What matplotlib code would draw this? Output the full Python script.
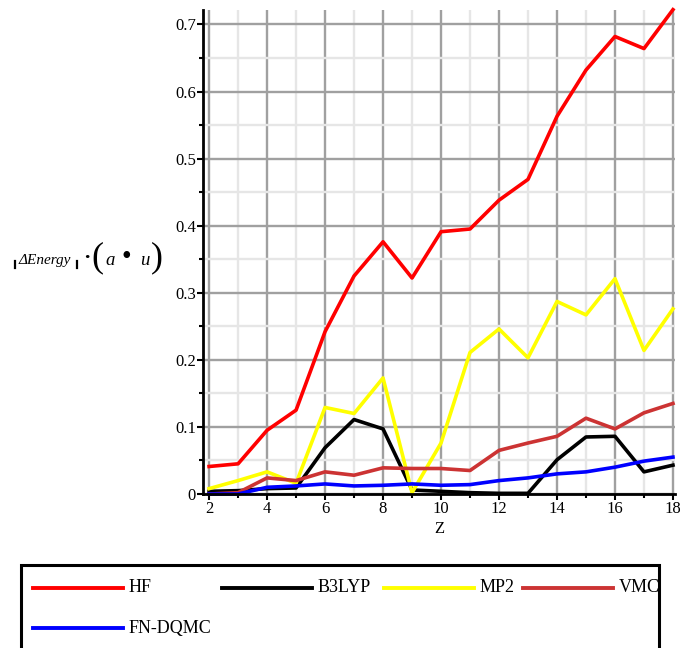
import numpy as np
import matplotlib.pyplot as plt
from matplotlib.lines import Line2D
from matplotlib.patches import Rectangle
from matplotlib.ticker import MultipleLocator
from matplotlib.transforms import Bbox, TransformedBbox

plt.rcParams['font.family'] = ['Liberation Serif', 'DejaVu Serif']

# Atomic number Z and energy error (a.u.) per method
z = [2, 3, 4, 5, 6, 7, 8, 9, 10, 11, 12, 13, 14, 15, 16, 17, 18]
hf = [0.041, 0.045, 0.095, 0.125, 0.242, 0.325, 0.376, 0.322, 0.391, 0.395,
      0.438, 0.469, 0.563, 0.632, 0.682, 0.664, 0.722]
b3lyp = [0.004, 0.005, 0.008, 0.009, 0.069, 0.111, 0.097, 0.006, 0.004, 0.002,
         0.001, 0.001, 0.051, 0.085, 0.086, 0.033, 0.043]
mp2 = [0.008, 0.020, 0.033, 0.016, 0.129, 0.120, 0.173, 0.002, 0.076, 0.211,
       0.246, 0.203, 0.287, 0.267, 0.321, 0.214, 0.276]
vmc = [0.000, 0.002, 0.024, 0.020, 0.033, 0.028, 0.039, 0.038, 0.038, 0.035,
       0.065, 0.076, 0.086, 0.113, 0.097, 0.121, 0.135]
fn_dqmc = [0.000, 0.000, 0.010, 0.012, 0.015, 0.012, 0.013, 0.015, 0.013, 0.014,
           0.020, 0.024, 0.030, 0.033, 0.040, 0.049, 0.055]

nomes = ['HF', 'B3LYP', 'MP2', 'VMC', 'FN-DQMC']
series = [hf, b3lyp, mp2, vmc, fn_dqmc]
cores = ['#ff0000', '#000000', '#ffff00', '#cc3333', '#0000ff']

fig = plt.figure(figsize=(6.8, 6.48), dpi=100)
ax = fig.add_axes([203 / 680, 1 - 494 / 648, 472 / 680, 484 / 648])

for nome, valores, cor in zip(nomes, series, cores):
    ax.plot(z, valores, color=cor, lw=2.6, label=nome, zorder=3, clip_on=False)

ax.set_xlim(1.79, 18.07)
ax.set_ylim(0, 0.7215)

# grid: dark lines on major ticks, light lines on minor ticks
ax.xaxis.set_major_locator(MultipleLocator(2))
ax.xaxis.set_minor_locator(MultipleLocator(1))
ax.yaxis.set_major_locator(MultipleLocator(0.1))
ax.yaxis.set_minor_locator(MultipleLocator(0.05))
ax.grid(True, which='minor', color='#e6e6e6', lw=1.7, zorder=0)
ax.grid(True, which='major', color='#a0a0a0', lw=1.7, zorder=1)
ax.set_axisbelow(True)

ax.yaxis.set_major_formatter(plt.FuncFormatter(lambda v, p: '0' if abs(v) < 1e-9 else f'{v:.1f}'))

for lado in ['top', 'right']:
    ax.spines[lado].set_visible(False)
for lado in ['left', 'bottom']:
    ax.spines[lado].set_linewidth(2)
    ax.spines[lado].set_zorder(4)

ax.tick_params(axis='both', which='major', direction='out', length=4, width=1.5,
               labelsize=12, pad=1)
ax.tick_params(axis='both', which='minor', direction='out', length=3, width=1.5)

ax.set_xlabel('Z', fontsize=12, labelpad=3)

# y axis label built from pieces
fig.add_artist(Line2D([14.5 / 680, 14.5 / 680], [1 - 268 / 648, 1 - 261 / 648],
                      transform=fig.transFigure, color='black', lw=1.6))
fig.text(18 / 680, 1 - 264 / 648, 'ΔEnergy', fontsize=11, style='italic')
fig.add_artist(Line2D([76.5 / 680, 76.5 / 680], [1 - 268 / 648, 1 - 261 / 648],
                      transform=fig.transFigure, color='black', lw=1.6))
fig.text(83 / 680, 1 - 263 / 648, '·', fontsize=16, fontweight='bold')
fig.text(91 / 680, 1 - 266 / 648, '(', fontsize=26)
fig.text(105 / 680, 1 - 265 / 648, 'a', fontsize=13.5, style='italic')
fig.text(121.5 / 680, 1 - 264 / 648, '•', fontsize=20)
fig.text(140 / 680, 1 - 265 / 648, 'u', fontsize=13.5, style='italic')
fig.text(151 / 680, 1 - 266 / 648, ')', fontsize=26)

# legend box below the plot
caixa = Rectangle((21 / 680, -0.05), 638 / 680, 0.05 + 1 - 565 / 648,
                  transform=fig.transFigure, fill=False, edgecolor='black', lw=2.2, zorder=5)
fig.add_artist(caixa)
clip = TransformedBbox(Bbox([[21 / 680, 0], [659 / 680, 1 - 565 / 648]]), fig.transFigure)

posicoes = [(33, 588), (222, 588), (384, 588), (523, 588), (33, 628)]
for (x0, y0), nome, cor in zip(posicoes, nomes, cores):
    fig.add_artist(Line2D([x0 / 680, (x0 + 90) / 680], [1 - y0 / 648, 1 - y0 / 648],
                          transform=fig.transFigure, color=cor, lw=2.8))
    t = fig.text((x0 + 96) / 680, 1 - y0 / 648, nome, fontsize=13, va='center')
    t.set_clip_box(clip)
    t.set_clip_on(True)

fig.savefig('out.png', dpi=100)
